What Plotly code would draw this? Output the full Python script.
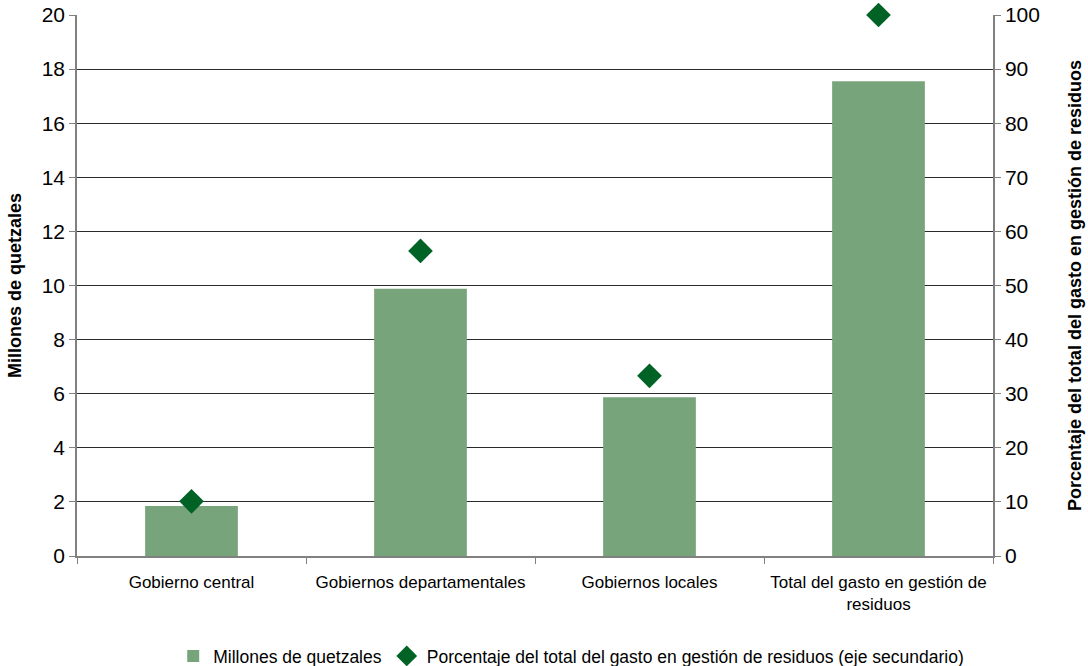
import plotly.graph_objects as go

categorias = ["Gobierno central", "Gobiernos departamentales", "Gobiernos locales",
              "Total del gasto en gestión de<br>residuos"]
millones = [1.85, 9.88, 5.87, 17.55]
porcentaje = [10.1, 56.4, 33.3, 100.0]

fig = go.Figure()
fig.add_trace(go.Bar(
    x=categorias, y=millones, name="Millones de quetzales",
    marker=dict(color="#78A47C", line=dict(width=0)), width=0.405,
))
fig.add_trace(go.Scatter(
    x=categorias, y=porcentaje, yaxis="y2", mode="markers", cliponaxis=False,
    name="Porcentaje del total del gasto en gestión de residuos (eje secundario)",
    marker=dict(symbol="diamond", size=19, color="#006325"),
))

font = "Liberation Sans, Arial, sans-serif"
fig.update_layout(
    width=1088, height=666,
    margin=dict(l=77, r=95, t=15, b=110, autoexpand=False),
    plot_bgcolor="white", paper_bgcolor="white",
    font=dict(family=font, color="#000000"),
    showlegend=True,
    legend=dict(orientation="h", x=0.525, xanchor="center", xref="container",
                y=0.015, yanchor="middle", yref="container",
                font=dict(size=17.5), itemwidth=30, traceorder="normal"),
    xaxis=dict(
        showline=True, linecolor="#808080", linewidth=1.5, automargin=False,
        ticks="outside", tickson="boundaries", ticklen=6, tickcolor="#808080",
        tickfont=dict(size=17), tickangle=0, ticklabelstandoff=10, showgrid=False,
    ),
    yaxis=dict(
        range=[0, 20], dtick=2, showline=True, linecolor="#808080", linewidth=1.5,
        ticks="outside", ticklen=6, tickcolor="#808080", automargin=False,
        showgrid=True, gridcolor="#2a2a2a", gridwidth=1,
        tickfont=dict(size=21), zeroline=False,
        title=dict(text="<b>Millones de quetzales</b>", font=dict(size=18), standoff=15),
    ),
    yaxis2=dict(
        range=[0, 100], dtick=10, overlaying="y", side="right",
        showline=True, linecolor="#808080", linewidth=1.5, automargin=False,
        ticks="outside", ticklen=6, tickcolor="#808080",
        showgrid=False, zeroline=False, tickfont=dict(size=21),
        title=dict(text="<b>Porcentaje del total del gasto en gestión de residuos</b>",
                   font=dict(size=18), standoff=29),
    ),
)

fig.write_html("out.html")
